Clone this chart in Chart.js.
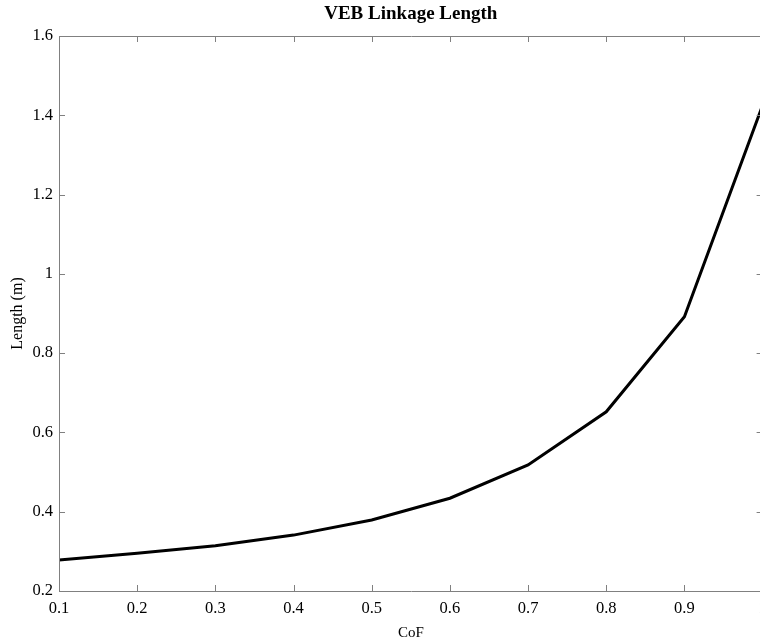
<!DOCTYPE html>
<html>
<head>
<meta charset="utf-8">
<script src="https://cdn.jsdelivr.net/npm/chart.js@4"></script>
<style>
  html, body { margin: 0; padding: 0; background: #fff; overflow: hidden; }
  #wrap { width: 780px; height: 642px; }
</style>
</head>
<body>
<div id="wrap"><canvas id="lenChart"></canvas></div>
<script>
// coefficient of friction vs. linkage length
const cof = [0.1, 0.2, 0.3, 0.4, 0.5, 0.6, 0.7, 0.8, 0.9, 1.0];
const lengths = [0.278, 0.295, 0.314, 0.341, 0.379, 0.434, 0.518, 0.652, 0.892, 1.425];

const xTicks = [0.1, 0.2, 0.3, 0.4, 0.5, 0.6, 0.7, 0.8, 0.9, 1.0];
const yTicks = [0.2, 0.4, 0.6, 0.8, 1.0, 1.2, 1.4, 1.6];

const AXIS_COLOR = '#808080';
const serif = '"Liberation Serif", "Times New Roman", serif';

Chart.defaults.font.family = serif;
Chart.defaults.color = '#000';

const fmt = v => String(Number(v.toFixed(1)));

// matlab style box with inward ticks on all four sides
const boxAxes = {
    id: 'boxAxes',
    afterDatasetsDraw(chart) {
        const { ctx, chartArea: a, scales } = chart;
        const len = 6;
        ctx.save();
        ctx.strokeStyle = AXIS_COLOR;
        ctx.lineWidth = 1;
        ctx.beginPath();
        ctx.rect(Math.round(a.left) + 0.5, Math.round(a.top) + 0.5,
                 Math.round(a.right - a.left), Math.round(a.bottom - a.top));
        xTicks.forEach(v => {
            const px = Math.round(scales.x.getPixelForValue(v)) + 0.5;
            ctx.moveTo(px, a.bottom); ctx.lineTo(px, a.bottom - len);
            ctx.moveTo(px, a.top); ctx.lineTo(px, a.top + len);
        });
        yTicks.forEach(v => {
            const py = Math.round(scales.y.getPixelForValue(v)) + 0.5;
            ctx.moveTo(a.left, py); ctx.lineTo(a.left + len, py);
            ctx.moveTo(a.right, py); ctx.lineTo(a.right - len, py);
        });
        ctx.stroke();
        ctx.restore();
    }
};

new Chart(document.getElementById('lenChart'), {
    type: 'line',
    data: {
        datasets: [{
            data: cof.map((c, i) => ({ x: c, y: lengths[i] })),
            borderColor: '#000',
            borderWidth: 3,
            pointRadius: 0,
            tension: 0,
            fill: false
        }]
    },
    options: {
        responsive: true,
        maintainAspectRatio: false,
        animation: false,
        layout: { padding: { left: 0, right: 17.4, top: 0, bottom: 0 } },
        plugins: {
            legend: { display: false },
            tooltip: { enabled: false },
            title: {
                display: true,
                text: 'VEB Linkage Length',
                fullSize: false,
                font: { size: 19, weight: 'bold' },
                color: '#000',
                padding: { top: 3, bottom: 10.2 }
            }
        },
        scales: {
            x: {
                type: 'linear',
                min: 0.1,
                max: 1.0,
                afterBuildTicks: s => { s.ticks = xTicks.map(v => ({ value: v })); },
                afterFit: s => { s.height = 51; },
                grid: { display: false, drawTicks: false },
                border: { display: false },
                ticks: {
                    padding: 8,
                    font: { size: 16.5 },
                    maxRotation: 0,
                    autoSkip: false,
                    callback: v => fmt(v)
                },
                title: {
                    display: true,
                    text: 'CoF',
                    font: { size: 15 },
                    padding: { top: 0, bottom: 0 }
                }
            },
            y: {
                min: 0.2,
                max: 1.6,
                afterBuildTicks: s => { s.ticks = yTicks.map(v => ({ value: v })); },
                afterFit: s => { s.width = 59; },
                grid: { display: false, drawTicks: false },
                border: { display: false },
                ticks: {
                    padding: 6,
                    font: { size: 16.5 },
                    callback: v => fmt(v)
                },
                title: {
                    display: true,
                    text: 'Length (m)',
                    font: { size: 16 },
                    padding: { top: 8, bottom: 0 }
                }
            }
        }
    },
    plugins: [boxAxes]
});
</script>
</body>
</html>
